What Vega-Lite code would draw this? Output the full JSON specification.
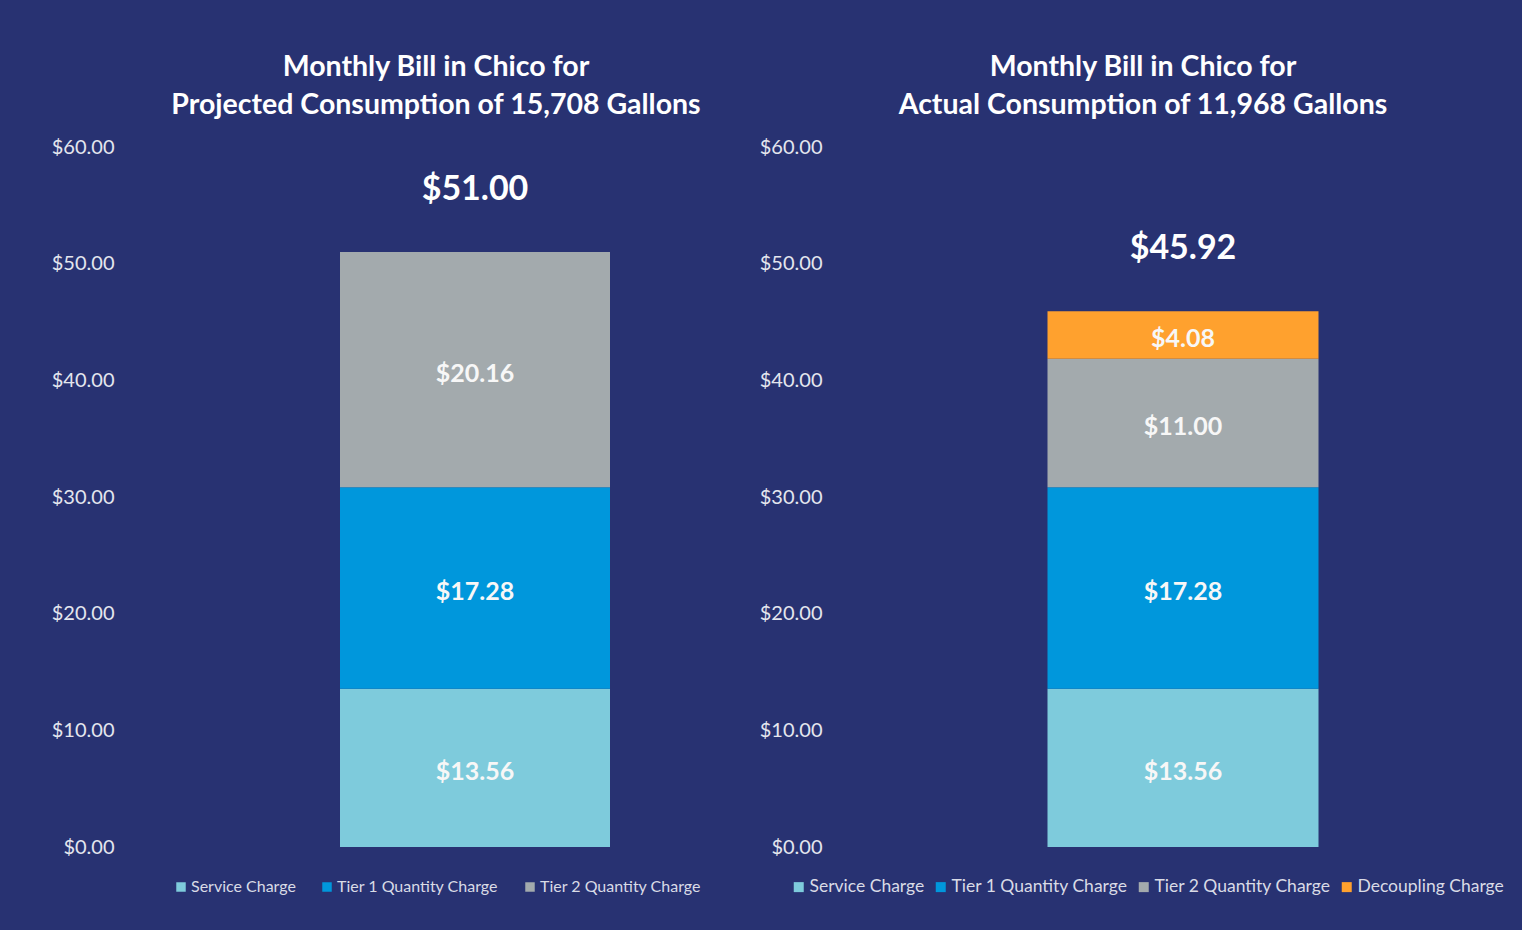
{
  "$schema": "https://vega.github.io/schema/vega-lite/v6.json",
  "background": "#283272",
  "padding": {"left": 51, "top": 52, "right": 20, "bottom": 36},
  "config": {
    "view": {"stroke": null},
    "font": "Lato",
    "title": {"font": "Lato", "fontSize": 28.5, "fontWeight": "bold", "color": "#ffffff", "lineHeight": 38, "anchor": "middle", "offset": 18},
    "axis": {"domain": false, "ticks": false, "grid": false, "labelFont": "Lato", "labelFontSize": 20, "labelColor": "#e4e6ee"},
    "legend": {"labelFont": "Lato", "labelColor": "#d9dbe6", "symbolType": "square", "symbolStrokeWidth": 0, "title": null, "labelLimit": 0}
  },
  "datasets": {
    "bills": [
      {"panel": "Projected", "component": "Service Charge", "k": 1, "value": 13.56},
      {"panel": "Projected", "component": "Tier 1 Quantity Charge", "k": 2, "value": 17.28},
      {"panel": "Projected", "component": "Tier 2 Quantity Charge", "k": 3, "value": 20.16},
      {"panel": "Actual", "component": "Service Charge", "k": 1, "value": 13.56},
      {"panel": "Actual", "component": "Tier 1 Quantity Charge", "k": 2, "value": 17.28},
      {"panel": "Actual", "component": "Tier 2 Quantity Charge", "k": 3, "value": 11.00},
      {"panel": "Actual", "component": "Decoupling Charge", "k": 4, "value": 4.08}
    ]
  },
  "spacing": 10,
  "resolve": {"scale": {"color": "independent", "y": "independent", "x": "independent"}, "legend": {"color": "independent"}},
  "hconcat": [
    {
      "width": 548,
      "height": 700,
      "title": {"text": ["Monthly Bill in Chico for", "Projected Consumption of 15,708 Gallons"], "dx": -39},
      "data": {"name": "bills"},
      "transform": [{"filter": "datum.panel == 'Projected'"}],
      "encoding": {"x": {"field": "panel", "type": "nominal", "axis": null}},
      "layer": [
        {
          "mark": {"type": "bar", "width": 270},
          "encoding": {
            "y": {"field": "value", "type": "quantitative", "stack": "zero", "title": null,
                  "scale": {"domain": [0, 60]},
                  "axis": {"values": [0, 10, 20, 30, 40, 50, 60], "format": "$,.2f", "labelPadding": 87}},
            "color": {"field": "component", "type": "nominal",
                      "scale": {"domain": ["Service Charge", "Tier 1 Quantity Charge", "Tier 2 Quantity Charge"], "range": ["#7ecbdc", "#0097dc", "#a3aaad"]},
                      "legend": {"orient": "none", "direction": "horizontal", "legendX": -28, "legendY": 732, "labelFontSize": 16, "symbolSize": 90, "columnPadding": 23, "labelOffset": 2}},
            "order": {"field": "k", "type": "quantitative"}
          }
        },
        {
          "mark": {"type": "text", "font": "Lato", "fontSize": 25, "fontWeight": "bold", "color": "#f7f7f7", "baseline": "middle", "dy": 4},
          "encoding": {
            "y": {"field": "value", "type": "quantitative", "stack": "zero", "bandPosition": 0.5, "title": null},
            "detail": {"field": "component"},
            "order": {"field": "k", "type": "quantitative"},
            "text": {"field": "value", "type": "quantitative", "format": "$,.2f"}
          }
        },
        {
          "mark": {"type": "text", "font": "Lato", "fontSize": 34, "fontWeight": "bold", "color": "#ffffff", "baseline": "middle", "dy": -62},
          "encoding": {
            "y": {"aggregate": "sum", "field": "value", "type": "quantitative", "title": null},
            "text": {"aggregate": "sum", "field": "value", "type": "quantitative", "format": "$,.2f"}
          }
        }
      ]
    },
    {
      "width": 566,
      "height": 700,
      "title": {"text": ["Monthly Bill in Chico for", "Actual Consumption of 11,968 Gallons"], "dx": -40},
      "data": {"name": "bills"},
      "transform": [{"filter": "datum.panel == 'Actual'"}],
      "encoding": {"x": {"field": "panel", "type": "nominal", "axis": null}},
      "layer": [
        {
          "mark": {"type": "bar", "width": 271},
          "encoding": {
            "y": {"field": "value", "type": "quantitative", "stack": "zero", "title": null,
                  "scale": {"domain": [0, 60]},
                  "axis": {"values": [0, 10, 20, 30, 40, 50, 60], "format": "$,.2f", "labelPadding": 78}},
            "color": {"field": "component", "type": "nominal",
                      "scale": {"domain": ["Service Charge", "Tier 1 Quantity Charge", "Tier 2 Quantity Charge", "Decoupling Charge"], "range": ["#7ecbdc", "#0097dc", "#a3aaad", "#ffa12e"]},
                      "legend": {"orient": "none", "direction": "horizontal", "legendX": -110, "legendY": 731, "labelFontSize": 17.5, "symbolSize": 100, "columnPadding": 7, "labelOffset": 2}},
            "order": {"field": "k", "type": "quantitative"}
          }
        },
        {
          "mark": {"type": "text", "font": "Lato", "fontSize": 25, "fontWeight": "bold", "color": "#f7f7f7", "baseline": "middle", "dy": 4},
          "encoding": {
            "y": {"field": "value", "type": "quantitative", "stack": "zero", "bandPosition": 0.5, "title": null},
            "detail": {"field": "component"},
            "order": {"field": "k", "type": "quantitative"},
            "text": {"field": "value", "type": "quantitative", "format": "$,.2f"}
          }
        },
        {
          "mark": {"type": "text", "font": "Lato", "fontSize": 34, "fontWeight": "bold", "color": "#ffffff", "baseline": "middle", "dy": -62},
          "encoding": {
            "y": {"aggregate": "sum", "field": "value", "type": "quantitative", "title": null},
            "text": {"aggregate": "sum", "field": "value", "type": "quantitative", "format": "$,.2f"}
          }
        }
      ]
    }
  ]
}
